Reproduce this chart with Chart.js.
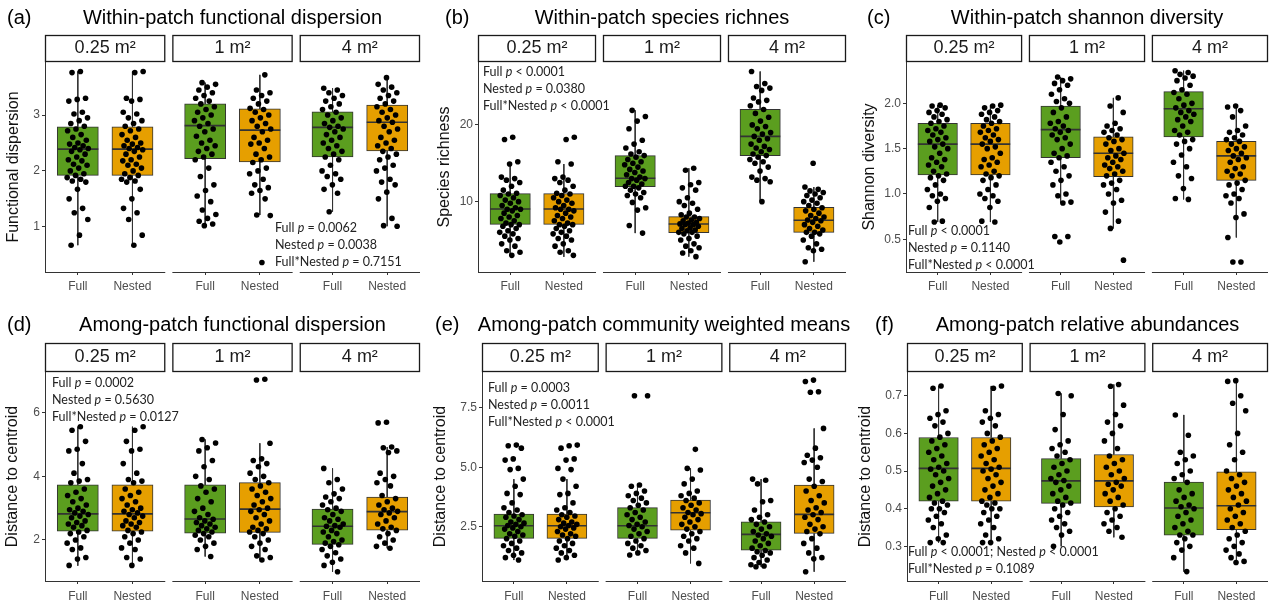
<!DOCTYPE html>
<html>
<head>
<meta charset="utf-8">
<script src="https://cdn.jsdelivr.net/npm/chart.js@4"></script>
<style>
  html, body { margin: 0; padding: 0; background: #fff; overflow: hidden; width: 1269px; height: 604px; }
  canvas { position: absolute; }
</style>
</head>
<body>
<canvas id="ca"></canvas>
<canvas id="cb"></canvas>
<canvas id="cc"></canvas>
<canvas id="cd"></canvas>
<canvas id="ce"></canvas>
<canvas id="cf"></canvas>
<script>
// facets and groups shared by every panel
const facetLabels = ['0.25 m²', '1 m²', '4 m²'];
const groupLabels = ['Full', 'Nested'];

// box order in every panel: 0.25 Full, 0.25 Nested, 1 Full, 1 Nested, 4 Full, 4 Nested

// (a) Within-patch functional dispersion
const aTicks = [1, 2, 3];
const aTickLabels = ['1', '2', '3'];
const aLower  = [0.67, 0.67, 1.02, 1.21, 1.27, 1.01];
const aQ1     = [1.92, 1.92, 2.22, 2.16, 2.25, 2.36];
const aMedian = [2.39, 2.39, 2.81, 2.73, 2.78, 2.87];
const aQ3     = [2.79, 2.79, 3.20, 3.11, 3.06, 3.18];
const aUpper  = [3.78, 3.78, 3.58, 3.72, 3.48, 3.67];
const aPts025 = [3.78, 3.76, 3.3, 3.28, 3.25, 3.05, 3.02, 2.95, 2.9, 2.85, 2.8, 2.75, 2.72, 2.65, 2.6, 2.55, 2.5, 2.48, 2.45, 2.42, 2.4, 2.38, 2.35, 2.3, 2.25, 2.2, 2.18, 2.12, 2.1, 2.05, 2.0, 1.95, 1.92, 1.88, 1.85, 1.82, 1.8, 1.67, 1.5, 1.33, 1.25, 1.13, 0.85, 0.67];
const aPts1Full = [3.58, 3.55, 3.5, 3.45, 3.4, 3.35, 3.3, 3.25, 3.2, 3.15, 3.1, 3.05, 3.0, 2.95, 2.9, 2.85, 2.8, 2.75, 2.7, 2.62, 2.55, 2.5, 2.45, 2.4, 2.35, 2.3, 2.25, 2.2, 2.05, 1.9, 1.75, 1.65, 1.55, 1.45, 1.3, 1.22, 1.15, 1.1, 1.05, 1.02];
const aPts1Nested = [3.72, 3.45, 3.4, 3.35, 3.3, 3.25, 3.2, 3.12, 3.1, 3.05, 3.0, 2.95, 2.9, 2.85, 2.8, 2.75, 2.7, 2.6, 2.55, 2.5, 2.48, 2.4, 2.3, 2.25, 2.2, 2.15, 2.05, 2.0, 1.95, 1.85, 1.75, 1.7, 1.65, 1.6, 1.5, 1.21, 1.2, 0.36];
const aPts4Full = [3.48, 3.45, 3.4, 3.35, 3.3, 3.25, 3.2, 3.15, 3.1, 3.05, 3.0, 2.95, 2.9, 2.85, 2.8, 2.78, 2.75, 2.7, 2.65, 2.6, 2.55, 2.5, 2.45, 2.4, 2.35, 2.3, 2.25, 2.2, 2.1, 2.0, 1.95, 1.9, 1.85, 1.75, 1.67, 1.6, 1.27];
const aPts4Nested = [3.67, 3.55, 3.5, 3.45, 3.4, 3.35, 3.3, 3.25, 3.2, 3.15, 3.1, 3.05, 3.0, 2.95, 2.9, 2.87, 2.8, 2.75, 2.7, 2.6, 2.55, 2.5, 2.45, 2.4, 2.35, 2.3, 2.25, 2.2, 2.1, 2.05, 2.0, 1.85, 1.8, 1.75, 1.62, 1.5, 1.15, 1.02, 1.01];
const aNotes = ['Full _p_ = 0.0062', 'Nested _p_ = 0.0038', 'Full*Nested _p_ = 0.7151'];

// (b) Within-patch species richness
const bTicks = [10, 20];
const bTickLabels = ['10', '20'];
const bLower  = [3.0, 2.8, 5.9, 2.83, 10.0, 2.17];
const bQ1     = [7.04, 7.04, 11.96, 5.96, 16.0, 6.0];
const bMedian = [9.04, 9.04, 13.04, 7.09, 18.5, 7.57];
const bQ3     = [11.04, 11.04, 16.0, 8.04, 22.04, 9.26];
const bUpper  = [15.0, 14.9, 21.9, 14.35, 26.96, 11.9];
const bPts025 = [18.4, 18.1, 15.2, 14.9, 13.2, 13.0, 12.8, 12.5, 12.0, 11.5, 11.1, 11.0, 10.8, 10.5, 10.2, 10.0, 9.8, 9.5, 9.2, 9.0, 9.0, 8.8, 8.5, 8.2, 8.0, 7.8, 7.5, 7.2, 7.0, 7.0, 6.8, 6.5, 6.2, 6.0, 5.8, 5.5, 5.2, 5.0, 4.5, 4.2, 3.6, 3.4, 3.0];
const bPts1Full = [21.9, 21.1, 20.5, 19.5, 18.0, 17.5, 17.0, 16.5, 16.2, 16.0, 15.8, 15.5, 15.2, 15.0, 14.8, 14.5, 14.2, 14.0, 13.8, 13.5, 13.2, 13.0, 13.0, 12.8, 12.5, 12.3, 12.0, 12.0, 11.8, 11.5, 11.2, 11.0, 10.8, 10.5, 9.9, 9.2, 8.9, 6.9, 5.9];
const bPts1Nested = [14.35, 14.1, 12.5, 12.2, 11.8, 11.5, 10.5, 10.0, 9.8, 9.5, 9.0, 8.5, 8.3, 8.0, 8.0, 7.8, 7.6, 7.5, 7.3, 7.2, 7.1, 7.0, 7.0, 6.8, 6.6, 6.5, 6.3, 6.2, 6.0, 6.0, 5.8, 5.5, 5.2, 5.0, 4.5, 4.2, 4.0, 3.6, 3.3, 2.83];
const bPts4Full = [26.96, 25.4, 25.0, 24.8, 24.5, 23.5, 23.2, 23.0, 22.5, 22.0, 21.5, 21.0, 20.5, 20.0, 19.8, 19.5, 19.0, 18.8, 18.5, 18.2, 18.0, 17.5, 17.2, 17.0, 16.8, 16.5, 16.2, 16.0, 15.8, 15.5, 15.2, 15.0, 14.5, 14.0, 13.2, 13.0, 12.8, 12.6, 10.0];
const bPts4Nested = [15.0, 11.9, 11.6, 11.4, 11.2, 11.0, 10.8, 10.5, 10.2, 10.0, 9.8, 9.5, 9.2, 9.0, 8.8, 8.5, 8.2, 8.0, 7.8, 7.6, 7.5, 7.3, 7.0, 6.8, 6.5, 6.3, 6.0, 6.0, 5.8, 5.5, 5.0, 4.5, 4.0, 3.8, 3.6, 2.17];
const bNotes = ['Full _p_ < 0.0001', 'Nested _p_ = 0.0380', 'Full*Nested _p_ < 0.0001'];

// (c) Within-patch shannon diversity
const cTicks = [0.5, 1.0, 1.5, 2.0];
const cTickLabels = ['0.5', '1.0', '1.5', '2.0'];
const cLower  = [0.69, 0.69, 0.90, 0.62, 0.94, 0.52];
const cQ1     = [1.21, 1.21, 1.40, 1.19, 1.63, 1.15];
const cMedian = [1.55, 1.55, 1.71, 1.45, 1.94, 1.42];
const cQ3     = [1.78, 1.78, 1.97, 1.63, 2.13, 1.58];
const cUpper  = [1.98, 1.98, 2.29, 2.06, 2.36, 1.97];
const cPts025 = [1.98, 1.97, 1.95, 1.92, 1.9, 1.88, 1.85, 1.82, 1.8, 1.78, 1.75, 1.72, 1.7, 1.68, 1.65, 1.62, 1.6, 1.58, 1.55, 1.52, 1.5, 1.45, 1.4, 1.38, 1.35, 1.32, 1.3, 1.25, 1.22, 1.2, 1.18, 1.15, 1.1, 1.05, 1.0, 0.98, 0.95, 0.92, 0.85, 0.7, 0.69];
const cPts1Full = [2.29, 2.27, 2.25, 2.22, 2.2, 2.15, 2.1, 2.05, 2.02, 2.0, 1.95, 1.9, 1.85, 1.8, 1.78, 1.75, 1.72, 1.7, 1.68, 1.65, 1.62, 1.6, 1.55, 1.5, 1.45, 1.42, 1.4, 1.35, 1.3, 1.25, 1.2, 1.15, 1.1, 1.0, 0.98, 0.91, 0.9, 0.53, 0.53, 0.47];
const cPts1Nested = [2.06, 1.97, 1.9, 1.78, 1.75, 1.72, 1.7, 1.68, 1.65, 1.62, 1.6, 1.58, 1.55, 1.5, 1.48, 1.45, 1.42, 1.4, 1.38, 1.35, 1.32, 1.3, 1.28, 1.25, 1.22, 1.2, 1.15, 1.12, 1.1, 1.05, 1.0, 0.93, 0.9, 0.8, 0.7, 0.62, 0.27];
const cPts4Full = [2.36, 2.34, 2.32, 2.3, 2.28, 2.25, 2.2, 2.15, 2.12, 2.1, 2.05, 2.0, 1.98, 1.95, 1.92, 1.9, 1.88, 1.85, 1.82, 1.8, 1.75, 1.7, 1.68, 1.65, 1.6, 1.58, 1.55, 1.5, 1.43, 1.35, 1.3, 1.2, 1.17, 1.06, 0.95, 0.94];
const cPts4Nested = [1.97, 1.96, 1.92, 1.85, 1.75, 1.7, 1.68, 1.65, 1.62, 1.6, 1.58, 1.55, 1.52, 1.5, 1.48, 1.45, 1.42, 1.4, 1.38, 1.35, 1.3, 1.28, 1.25, 1.22, 1.2, 1.15, 1.12, 1.1, 1.05, 1.0, 0.98, 0.95, 0.9, 0.78, 0.74, 0.52, 0.25, 0.25];
const cNotes = ['Full _p_ < 0.0001', 'Nested _p_ = 0.1140', 'Full*Nested _p_ < 0.0001'];

// (d) Among-patch functional dispersion
const dTicks = [2, 4, 6];
const dTickLabels = ['2', '4', '6'];
const dLower  = [1.19, 1.19, 1.48, 1.37, 1.0, 1.74];
const dQ1     = [2.28, 2.28, 2.21, 2.24, 1.86, 2.31];
const dMedian = [2.82, 2.82, 2.66, 2.97, 2.43, 2.89];
const dQ3     = [3.73, 3.73, 3.73, 3.80, 2.97, 3.35];
const dUpper  = [5.56, 5.56, 5.16, 5.04, 4.25, 4.92];
const dPts025 = [5.56, 5.45, 5.1, 4.85, 4.8, 4.4, 4.1, 3.9, 3.85, 3.8, 3.6, 3.5, 3.4, 3.3, 3.2, 3.1, 3.0, 2.95, 2.9, 2.85, 2.8, 2.75, 2.7, 2.6, 2.55, 2.5, 2.45, 2.4, 2.3, 2.25, 2.2, 2.1, 2.0, 1.9, 1.75, 1.7, 1.45, 1.4, 1.2];
const dPts1Full = [5.16, 5.05, 4.9, 4.8, 4.5, 4.3, 4.0, 3.9, 3.7, 3.6, 3.5, 3.3, 3.2, 3.0, 2.9, 2.8, 2.7, 2.65, 2.6, 2.55, 2.5, 2.45, 2.4, 2.35, 2.3, 2.25, 2.2, 2.15, 2.1, 2.0, 1.9, 1.8, 1.7, 1.48];
const dPts1Nested = [7.05, 7.03, 5.04, 4.55, 4.5, 4.4, 4.3, 4.1, 4.0, 3.9, 3.8, 3.7, 3.6, 3.5, 3.4, 3.3, 3.2, 3.1, 3.0, 2.95, 2.9, 2.8, 2.7, 2.6, 2.5, 2.4, 2.35, 2.3, 2.25, 2.2, 2.1, 2.0, 1.9, 1.8, 1.7, 1.5, 1.45, 1.37];
const dPts4Full = [4.25, 3.9, 3.8, 3.6, 3.45, 3.35, 3.3, 3.2, 3.1, 3.0, 2.95, 2.9, 2.8, 2.7, 2.65, 2.6, 2.5, 2.45, 2.43, 2.4, 2.3, 2.25, 2.2, 2.1, 2.0, 1.95, 1.9, 1.85, 1.8, 1.7, 1.6, 1.5, 1.4, 1.3, 1.2, 1.0];
const dPts4Nested = [5.7, 5.68, 4.92, 4.9, 4.8, 4.75, 4.1, 4.0, 3.9, 3.8, 3.7, 3.4, 3.3, 3.2, 3.1, 3.0, 2.95, 2.9, 2.85, 2.8, 2.7, 2.6, 2.5, 2.4, 2.35, 2.3, 2.2, 2.1, 2.0, 1.9, 1.8, 1.74];
const dNotes = ['Full _p_ = 0.0002', 'Nested _p_ = 0.5630', 'Full*Nested _p_ = 0.0127'];

// (e) Among-patch community weighted means
const eTicks = [2.5, 5.0, 7.5];
const eTickLabels = ['2.5', '5.0', '7.5'];
const eLower  = [1.1, 1.1, 1.31, 0.96, 0.82, 0.61];
const eQ1     = [2.01, 2.01, 2.01, 2.36, 1.52, 2.22];
const eMedian = [2.54, 2.54, 2.54, 3.09, 2.18, 3.02];
const eQ3     = [3.03, 3.03, 3.30, 3.62, 2.71, 4.25];
const eUpper  = [4.5, 4.5, 4.25, 4.95, 4.5, 6.63];
const ePts025 = [5.93, 5.9, 5.8, 5.35, 5.3, 4.95, 4.9, 4.5, 4.2, 3.9, 3.85, 3.5, 3.3, 3.2, 3.1, 3.0, 2.95, 2.9, 2.8, 2.7, 2.65, 2.6, 2.55, 2.5, 2.45, 2.4, 2.3, 2.2, 2.15, 2.1, 2.0, 1.9, 1.8, 1.7, 1.6, 1.5, 1.4, 1.3, 1.2, 1.1];
const ePts1Full = [8.0, 8.0, 4.25, 4.2, 4.0, 3.9, 3.8, 3.7, 3.6, 3.5, 3.4, 3.3, 3.2, 3.1, 3.0, 2.9, 2.8, 2.7, 2.6, 2.55, 2.5, 2.4, 2.3, 2.2, 2.1, 2.0, 1.9, 1.8, 1.7, 1.6, 1.5, 1.4, 1.31];
const ePts1Nested = [5.75, 4.95, 4.88, 4.5, 4.3, 4.0, 3.9, 3.8, 3.7, 3.6, 3.5, 3.4, 3.3, 3.2, 3.1, 3.05, 3.0, 2.9, 2.8, 2.7, 2.6, 2.5, 2.4, 2.3, 2.2, 2.1, 2.0, 1.9, 1.7, 1.6, 1.4, 0.96];
const ePts4Full = [4.5, 4.45, 4.3, 3.6, 3.55, 3.2, 3.0, 2.9, 2.8, 2.7, 2.6, 2.5, 2.4, 2.3, 2.2, 2.15, 2.1, 2.0, 1.9, 1.8, 1.7, 1.6, 1.5, 1.45, 1.4, 1.3, 1.2, 1.1, 1.0, 0.9, 0.85, 0.82];
const ePts4Nested = [8.66, 8.6, 8.17, 8.15, 6.63, 5.8, 5.5, 5.4, 5.3, 5.2, 5.0, 4.5, 4.4, 4.2, 4.0, 3.8, 3.6, 3.5, 3.3, 3.2, 3.1, 3.0, 2.9, 2.8, 2.6, 2.5, 2.4, 2.3, 2.2, 2.0, 1.8, 1.6, 1.4, 1.2, 1.15, 0.61];
const eNotes = ['Full _p_ = 0.0003', 'Nested _p_ = 0.0011', 'Full*Nested _p_ < 0.0001'];

// (f) Among-patch relative abundances
const fTicks = [0.3, 0.4, 0.5, 0.6, 0.7];
const fTickLabels = ['0.3', '0.4', '0.5', '0.6', '0.7'];
const fLower  = [0.31, 0.31, 0.30, 0.324, 0.233, 0.257];
const fQ1     = [0.42, 0.42, 0.414, 0.405, 0.33, 0.344];
const fMedian = [0.507, 0.507, 0.474, 0.474, 0.402, 0.408];
const fQ3     = [0.589, 0.589, 0.533, 0.544, 0.471, 0.498];
const fUpper  = [0.726, 0.726, 0.706, 0.73, 0.649, 0.74];
const fPts025 = [0.726, 0.72, 0.66, 0.65, 0.64, 0.63, 0.62, 0.6, 0.59, 0.58, 0.57, 0.56, 0.55, 0.54, 0.53, 0.52, 0.51, 0.505, 0.5, 0.49, 0.48, 0.47, 0.46, 0.45, 0.44, 0.43, 0.42, 0.415, 0.41, 0.4, 0.4, 0.39, 0.38, 0.37, 0.36, 0.35, 0.33, 0.32, 0.31, 0.31];
const fPts1Full = [0.706, 0.7, 0.65, 0.61, 0.58, 0.57, 0.56, 0.55, 0.54, 0.53, 0.52, 0.51, 0.5, 0.49, 0.48, 0.475, 0.47, 0.46, 0.45, 0.44, 0.43, 0.42, 0.415, 0.41, 0.4, 0.39, 0.38, 0.37, 0.36, 0.35, 0.34, 0.33, 0.30];
const fPts1Nested = [0.73, 0.725, 0.675, 0.65, 0.63, 0.62, 0.6, 0.58, 0.56, 0.54, 0.53, 0.52, 0.51, 0.5, 0.49, 0.48, 0.47, 0.465, 0.46, 0.45, 0.44, 0.43, 0.42, 0.41, 0.4, 0.39, 0.38, 0.37, 0.36, 0.35, 0.34, 0.324];
const fPts4Full = [0.649, 0.595, 0.55, 0.54, 0.53, 0.52, 0.5, 0.49, 0.48, 0.47, 0.45, 0.44, 0.43, 0.42, 0.41, 0.405, 0.4, 0.39, 0.38, 0.37, 0.36, 0.35, 0.34, 0.33, 0.33, 0.32, 0.31, 0.3, 0.29, 0.27, 0.233];
const fPts4Nested = [0.74, 0.738, 0.7, 0.68, 0.66, 0.6, 0.57, 0.55, 0.53, 0.5, 0.49, 0.48, 0.47, 0.46, 0.45, 0.44, 0.43, 0.42, 0.41, 0.4, 0.39, 0.38, 0.37, 0.36, 0.35, 0.34, 0.33, 0.32, 0.31, 0.3, 0.29, 0.28, 0.27, 0.26, 0.257];
const fNotes = ['Full _p_ < 0.0001; Nested _p_ < 0.0001', 'Full*Nested _p_ = 0.1089'];

// look
const GREEN = '#5b9e1f';
const ORANGE = '#e69f00';
const LINE = '#333333';
const TICK_TEXT = '#4d4d4d';
const FACET = 2.2;   // x units per facet (2 groups + ggplot expansion)
const GAP = 0.13;    // x units between facets
Chart.defaults.font.family = 'Liberation Sans, Arial, sans-serif';

// draws strips, titles, broken x axis lines and the p-value notes
function facetPlugin(p) {
  return {
    id: 'facets',
    afterDraw(chart) {
      const ctx = chart.ctx;
      const area = chart.chartArea;
      const x = chart.scales.x;
      ctx.save();
      for (let f = 0; f < 3; f++) {
        const x0 = x.getPixelForValue(f * (FACET + GAP));
        const x1 = x.getPixelForValue(f * (FACET + GAP) + FACET);
        // strip
        ctx.fillStyle = '#fff';
        ctx.strokeStyle = '#1a1a1a';
        ctx.lineWidth = 1.3;
        ctx.fillRect(x0, area.top - p.stripH, x1 - x0, p.stripH);
        ctx.strokeRect(x0 + 0.5, area.top - p.stripH + 0.5, x1 - x0 - 1, p.stripH - 1);
        ctx.fillStyle = '#1a1a1a';
        ctx.font = '18px Liberation Sans';
        ctx.textAlign = 'center';
        ctx.textBaseline = 'middle';
        ctx.fillText(facetLabels[f], (x0 + x1) / 2, area.top - p.stripH / 2);
        // x axis line of this facet
        ctx.strokeStyle = LINE;
        ctx.lineWidth = 1;
        ctx.beginPath();
        ctx.moveTo(x0, area.bottom + 0.5);
        ctx.lineTo(x1, area.bottom + 0.5);
        ctx.stroke();
      }
      // title and panel tag
      ctx.fillStyle = '#000';
      ctx.font = '20px Liberation Sans';
      ctx.textBaseline = 'middle';
      ctx.textAlign = 'center';
      ctx.fillText(p.title, (area.left + area.right) / 2, p.titleY);
      ctx.textAlign = 'left';
      ctx.fillText(p.tag, p.tagX, p.titleY);
      // notes, with italic p
      ctx.fillStyle = '#222';
      p.notes.forEach((line, i) => {
        let cx = p.noteX;
        const cy = p.noteY + i * 17;
        line.split('_').forEach((part, k) => {
          ctx.font = (k % 2 ? 'italic ' : '') + '12.5px Lato';
          ctx.fillText(part, cx, cy);
          cx += ctx.measureText(part).width;
        });
      });
      ctx.restore();
    }
  };
}

function makePanel(p) {
  const canvas = document.getElementById(p.id);
  canvas.width = p.width;
  canvas.height = p.height;
  canvas.style.left = p.left + 'px';
  canvas.style.top = p.top + 'px';

  const xMax = 3 * FACET + 2 * GAP;
  const plotW = p.plotRight - p.plotLeft;
  const unitPx = plotW / xMax;

  const pos = [];
  for (let f = 0; f < 3; f++) {
    for (let k = 0; k < groupLabels.length; k++) pos.push(f * (FACET + GAP) + 0.6 + k);
  }

  const boxes = pos.map((x, i) => ({ x: x, y: [p.q1[i], p.q3[i]] }));
  const whiskers = [];
  const medians = [];
  const points = [];
  pos.forEach((x, i) => {
    whiskers.push({ x: x, y: p.upper[i] }, { x: x, y: p.q3[i] }, { x: x, y: null },
                  { x: x, y: p.q1[i] }, { x: x, y: p.lower[i] }, { x: x, y: null });
    medians.push({ x: x - 0.375, y: p.median[i] }, { x: x + 0.375, y: p.median[i] }, { x: x, y: null });
    p.points[i].forEach((v, j) => {
      // fixed spread pattern (golden-ratio steps) so the points scatter across the box
      const t = ((j + 1) * 0.618034 + i * 0.37) % 1;
      points.push({ x: x + (t - 0.5) * 0.4, y: v });
    });
  });

  new Chart(canvas, {
    type: 'bar',
    data: {
      datasets: [
        {
          type: 'line', data: whiskers, borderColor: LINE, borderWidth: 1,
          pointRadius: 0, spanGaps: false, order: 4
        },
        {
          type: 'bar', data: boxes, barThickness: 0.75 * unitPx,
          backgroundColor: pos.map((x, i) => i % 2 ? ORANGE : GREEN),
          borderColor: LINE, borderWidth: 1, borderSkipped: false, order: 3
        },
        {
          type: 'line', data: medians, borderColor: LINE, borderWidth: 1.6,
          pointRadius: 0, spanGaps: false, order: 2
        },
        {
          type: 'scatter', data: points, backgroundColor: '#000', borderColor: '#000',
          pointRadius: 2.8, borderWidth: 0, order: 1
        }
      ]
    },
    options: {
      responsive: false,
      animation: false,
      events: [],
      layout: { padding: { left: 0, top: p.plotTop, right: p.width - p.plotRight + p.left, bottom: 0 } },
      plugins: { legend: { display: false }, tooltip: { enabled: false } },
      scales: {
        x: {
          type: 'linear', min: 0, max: xMax, offset: false,
          afterBuildTicks: s => { s.ticks = pos.map(v => ({ value: v })); },
          afterFit: s => { s.height = p.height - p.plotBottom; },
          grid: { drawOnChartArea: false, drawTicks: true, tickLength: 3, color: LINE, offset: false },
          border: { display: false },
          ticks: {
            autoSkip: false, maxRotation: 0, padding: p.xPad, color: TICK_TEXT,
            font: { size: 12 },
            callback: (v, i) => groupLabels[i % 2]
          }
        },
        y: {
          min: p.ymin, max: p.ymax,
          afterBuildTicks: s => { s.ticks = p.ticks.map(v => ({ value: v })); },
          afterFit: s => { s.width = p.plotLeft - p.left; },
          grid: { drawOnChartArea: false, drawTicks: true, tickLength: 3, color: LINE },
          border: { display: true, color: LINE, width: 1 },
          ticks: {
            padding: 2, color: TICK_TEXT, font: { size: 12 },
            callback: (v, i) => p.tickLabels[i]
          },
          title: {
            display: true, text: p.yTitle, color: '#111',
            font: { size: 16 }, padding: { top: p.yTitlePad, bottom: 0 }
          }
        }
      }
    },
    plugins: [facetPlugin(p)]
  });
}

const row1 = { top: 0, height: 300, plotTop: 62, plotBottom: 272, titleY: 18, stripH: 27, xPad: 4 };
const row2 = { top: 300, height: 310, plotTop: 72, plotBottom: 281, titleY: 25, stripH: 29, xPad: 5 };

makePanel(Object.assign({}, row1, {
  id: 'ca', left: 0, width: 424, plotLeft: 45, plotRight: 421, ymin: 0.19, ymax: 3.95,
  tag: '(a)', tagX: 7, title: 'Within-patch functional dispersion', yTitle: 'Functional dispersion', yTitlePad: 4,
  ticks: aTicks, tickLabels: aTickLabels,
  lower: aLower, q1: aQ1, median: aMedian, q3: aQ3, upper: aUpper,
  points: [aPts025, aPts025, aPts1Full, aPts1Nested, aPts4Full, aPts4Nested],
  notes: aNotes, noteX: 275, noteY: 228
}));
makePanel(Object.assign({}, row1, {
  id: 'cb', left: 424, width: 426, plotLeft: 478, plotRight: 847, ymin: 0.83, ymax: 28.2,
  tag: '(b)', tagX: 21, title: 'Within-patch species richnes', yTitle: 'Species richness', yTitlePad: 11,
  ticks: bTicks, tickLabels: bTickLabels,
  lower: bLower, q1: bQ1, median: bMedian, q3: bQ3, upper: bUpper,
  points: [bPts025, bPts025, bPts1Full, bPts1Nested, bPts4Full, bPts4Nested],
  notes: bNotes, noteX: 59, noteY: 72
}));
makePanel(Object.assign({}, row1, {
  id: 'cc', left: 850, width: 430, plotLeft: 906, plotRight: 1268, ymin: 0.139, ymax: 2.456,
  tag: '(c)', tagX: 17, title: 'Within-patch shannon diversity', yTitle: 'Shannon diversity', yTitlePad: 10,
  ticks: cTicks, tickLabels: cTickLabels,
  lower: cLower, q1: cQ1, median: cMedian, q3: cQ3, upper: cUpper,
  points: [cPts025, cPts025, cPts1Full, cPts1Nested, cPts4Full, cPts4Nested],
  notes: cNotes, noteX: 58, noteY: 231
}));
makePanel(Object.assign({}, row2, {
  id: 'cd', left: 0, width: 424, plotLeft: 45, plotRight: 421, ymin: 0.71, ymax: 7.28,
  tag: '(d)', tagX: 7, title: 'Among-patch functional dispersion', yTitle: 'Distance to centroid', yTitlePad: 3,
  ticks: dTicks, tickLabels: dTickLabels,
  lower: dLower, q1: dQ1, median: dMedian, q3: dQ3, upper: dUpper,
  points: [dPts025, dPts025, dPts1Full, dPts1Nested, dPts4Full, dPts4Nested],
  notes: dNotes, noteX: 52, noteY: 83
}));
makePanel(Object.assign({}, row2, {
  id: 'ce', left: 424, width: 426, plotLeft: 482, plotRight: 847, ymin: 0.22, ymax: 9.0,
  tag: '(e)', tagX: 11, title: 'Among-patch community weighted means', yTitle: 'Distance to centroid', yTitlePad: 7,
  ticks: eTicks, tickLabels: eTickLabels,
  lower: eLower, q1: eQ1, median: eMedian, q3: eQ3, upper: eUpper,
  points: [ePts025, ePts025, ePts1Full, ePts1Nested, ePts4Full, ePts4Nested],
  notes: eNotes, noteX: 64, noteY: 88
}));
makePanel(Object.assign({}, row2, {
  id: 'cf', left: 850, width: 430, plotLeft: 907, plotRight: 1268, ymin: 0.208, ymax: 0.763,
  tag: '(f)', tagX: 25, title: 'Among-patch relative abundances', yTitle: 'Distance to centroid', yTitlePad: 6,
  ticks: fTicks, tickLabels: fTickLabels,
  lower: fLower, q1: fQ1, median: fMedian, q3: fQ3, upper: fUpper,
  points: [fPts025, fPts025, fPts1Full, fPts1Nested, fPts4Full, fPts4Nested],
  notes: fNotes, noteX: 58, noteY: 252
}));
</script>
</body>
</html>
